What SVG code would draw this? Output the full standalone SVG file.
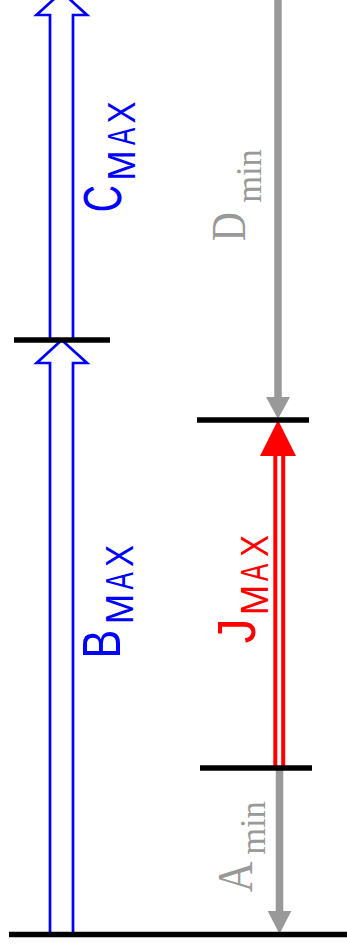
<svg xmlns="http://www.w3.org/2000/svg" width="347" height="951" viewBox="0 0 347 951">
<style>
.bar{stroke:#000;stroke-width:5.5;fill:none}
.blue{stroke:#0000ff;stroke-width:2.7;fill:none;stroke-linejoin:miter}
.gray{stroke:#999;stroke-width:7.5;fill:none}
.grayh{fill:#999}
.red{stroke:#ff0000;stroke-width:4;fill:none}
.redh{fill:#ff0000}
.sans{font-family:"Liberation Sans",Arial,sans-serif;text-anchor:middle}
.serif{font-family:"Liberation Serif","Times New Roman",serif;text-anchor:middle;fill:#999}
.big{font-size:54px}
.sub{font-size:38px}
.tb{fill:#0000ff}
.tr{fill:#ff0000}
</style>
<g id="connectors">
<path class="blue" d="M50,934 V363 H36.7 L61.7,340 L87,363 H73 V934"/>
<path class="blue" d="M50,338 V15 H36.5 L61.7,-8 L87,15 H73 V338"/>
<line class="gray" x1="278" y1="0" x2="278" y2="399"/>
<polygon class="grayh" points="266,397 290,397 278,419"/>
<line class="red" x1="275.3" y1="454" x2="275.3" y2="766"/>
<line class="red" x1="283.2" y1="454" x2="283.2" y2="766"/>
<polygon class="redh" points="260,456 296,456 278,420"/>
<line class="gray" x1="279.5" y1="768" x2="279.5" y2="913"/>
<polygon class="grayh" points="267.7,911 291.3,911 279.5,934"/>
</g>
<g id="bars">
<line class="bar" x1="14" y1="340" x2="110" y2="340"/>
<line class="bar" x1="197" y1="420" x2="309" y2="420"/>
<line class="bar" x1="200" y1="768" x2="312" y2="768"/>
<line class="bar" x1="9" y1="934.5" x2="347" y2="934.5"/>
</g>
<g id="label-cmax" class="sans tb">
<text class="big" transform="translate(121,198.5) rotate(-90) scale(0.7,1)">C</text>
<text class="sub" transform="translate(135,165.5) rotate(-90) scale(0.96,1)">M</text>
<text class="sub" transform="translate(135,136.5) rotate(-90) scale(0.68,1)">A</text>
<text class="sub" transform="translate(135,112.5) rotate(-90) scale(0.87,1)">X</text>
</g>
<g id="label-bmax" class="sans tb">
<text class="big" transform="translate(120,644) rotate(-90) scale(0.8,1)">B</text>
<text class="sub" transform="translate(133,609) rotate(-90) scale(0.96,1)">M</text>
<text class="sub" transform="translate(133,581) rotate(-90) scale(0.68,1)">A</text>
<text class="sub" transform="translate(133,556) rotate(-90) scale(0.87,1)">X</text>
</g>
<g id="label-jmax" class="sans tr">
<text class="big" transform="translate(255,631) rotate(-90) scale(0.93,1)">J</text>
<text class="sub" transform="translate(268,600) rotate(-90) scale(0.96,1)">M</text>
<text class="sub" transform="translate(268,572.5) rotate(-90) scale(0.68,1)">A</text>
<text class="sub" transform="translate(268,546) rotate(-90) scale(0.87,1)">X</text>
</g>
<g id="label-dmin" class="serif">
<text font-size="48" transform="translate(245,226.7) rotate(-90) scale(0.84,1)">D</text>
<text font-size="36" transform="translate(261,176) rotate(-90) scale(0.96,1)">min</text>
</g>
<g id="label-amin" class="serif">
<text font-size="50" transform="translate(251.5,877) rotate(-90) scale(0.85,1)">A</text>
<text font-size="36" transform="translate(265,828) rotate(-90) scale(0.96,1)">min</text>
</g>
</svg>
